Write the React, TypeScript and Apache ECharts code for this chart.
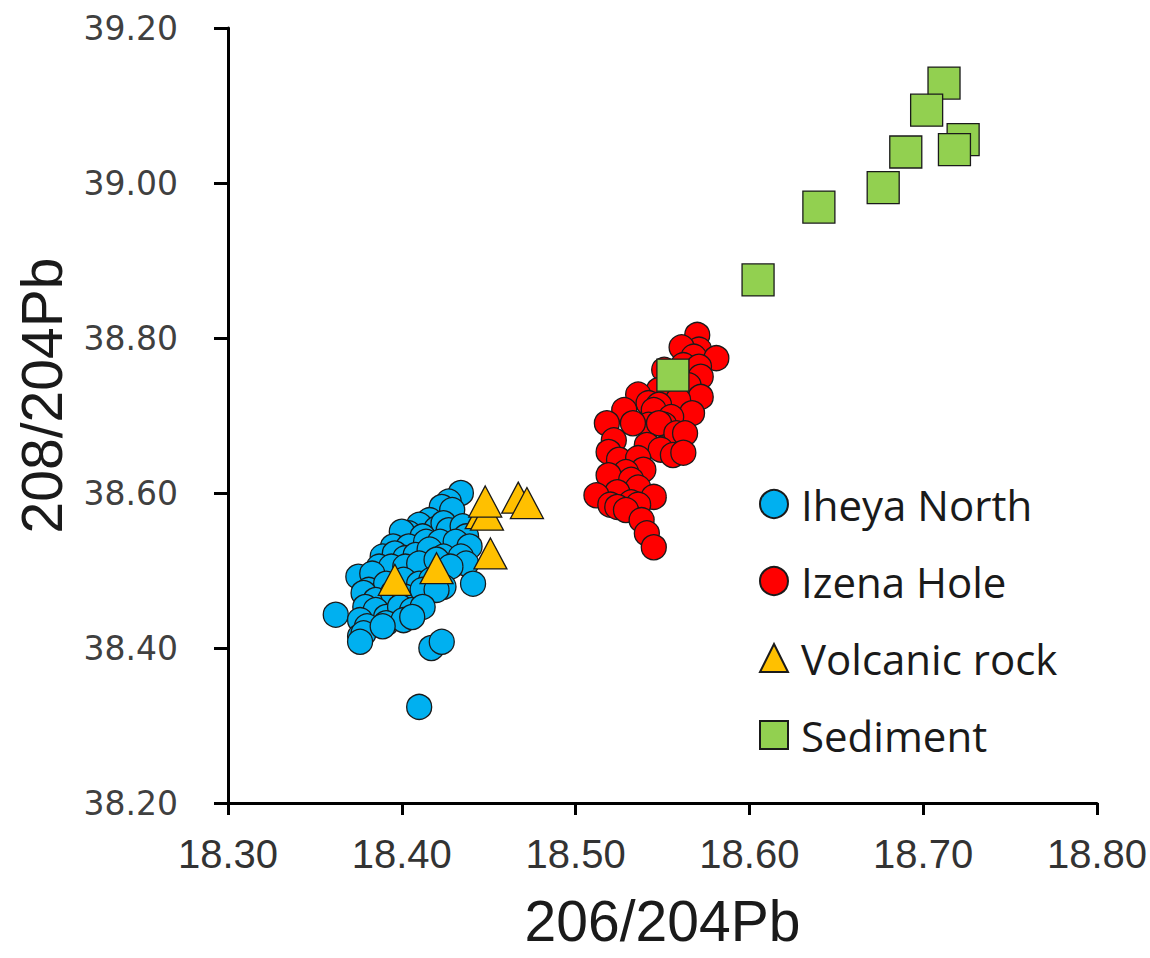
import React, { useEffect, useRef } from "react";
import * as echarts from "echarts";

const seriesNames = ["Iheya North", "Izena Hole", "Volcanic rock", "Sediment"];

const iheyaNorth: [number, number][] = [
  [18.434, 38.6], [18.427, 38.589], [18.423, 38.582], [18.429, 38.578], [18.416, 38.565],
  [18.41, 38.559], [18.42, 38.554], [18.424, 38.561], [18.404, 38.548], [18.4, 38.55],
  [18.412, 38.544], [18.427, 38.552], [18.435, 38.557], [18.437, 38.544], [18.395, 38.531],
  [18.404, 38.531], [18.414, 38.537], [18.422, 38.537], [18.431, 38.537], [18.439, 38.531],
  [18.389, 38.518], [18.396, 38.522], [18.402, 38.516], [18.408, 38.52], [18.416, 38.527],
  [18.424, 38.518], [18.434, 38.518], [18.437, 38.509], [18.387, 38.505], [18.394, 38.505],
  [18.402, 38.505], [18.41, 38.509], [18.42, 38.514], [18.428, 38.505], [18.441, 38.483],
  [18.375, 38.492], [18.383, 38.496], [18.381, 38.475], [18.391, 38.483], [18.401, 38.488],
  [18.41, 38.483], [18.417, 38.488], [18.424, 38.479], [18.378, 38.471], [18.385, 38.462],
  [18.395, 38.471], [18.402, 38.466], [18.412, 38.475], [18.42, 38.475], [18.362, 38.443],
  [18.379, 38.453], [18.385, 38.449], [18.391, 38.44], [18.399, 38.453], [18.406, 38.449],
  [18.412, 38.453], [18.376, 38.436], [18.38, 38.428], [18.391, 38.432], [18.401, 38.436],
  [18.406, 38.44], [18.376, 38.415], [18.378, 38.419], [18.389, 38.428], [18.376, 38.408],
  [18.417, 38.4], [18.423, 38.408], [18.41, 38.324],
];

const izenaHole: [number, number][] = [
  [18.57, 38.804], [18.571, 38.785], [18.561, 38.788], [18.568, 38.776], [18.581, 38.774],
  [18.562, 38.765], [18.571, 38.763], [18.551, 38.759], [18.572, 38.75], [18.565, 38.739],
  [18.553, 38.737], [18.548, 38.733], [18.536, 38.727], [18.572, 38.724], [18.559, 38.72],
  [18.542, 38.716], [18.548, 38.714], [18.545, 38.707], [18.528, 38.707], [18.567, 38.703],
  [18.555, 38.698], [18.542, 38.688], [18.551, 38.688], [18.518, 38.69], [18.533, 38.69],
  [18.548, 38.69], [18.558, 38.677], [18.563, 38.677], [18.522, 38.668], [18.541, 38.662],
  [18.549, 38.656], [18.519, 38.653], [18.556, 38.649], [18.562, 38.652], [18.525, 38.643],
  [18.536, 38.645], [18.539, 38.63], [18.529, 38.627], [18.519, 38.623], [18.532, 38.617],
  [18.536, 38.607], [18.524, 38.601], [18.512, 38.597], [18.545, 38.595], [18.532, 38.588],
  [18.536, 38.585], [18.52, 38.585], [18.524, 38.582], [18.529, 38.578], [18.538, 38.565],
  [18.541, 38.548], [18.545, 38.53],
];

const volcanicRock: [number, number][] = [
  [18.446, 38.574], [18.449, 38.572], [18.448, 38.589], [18.467, 38.594], [18.472, 38.587],
  [18.396, 38.488], [18.42, 38.503], [18.451, 38.522],
];

const sediment: [number, number][] = [
  [18.556, 38.752], [18.605, 38.875], [18.64, 38.969], [18.677, 38.994], [18.69, 39.04],
  [18.723, 39.056], [18.718, 39.043], [18.712, 39.129], [18.702, 39.094],
];

const xTitle = "206/204Pb";
const yTitle = "208/204Pb";

export default function App() {
  const ref = useRef<HTMLDivElement>(null);
  useEffect(() => {
    if (!ref.current) return;
    const chart = echarts.init(ref.current, undefined, { renderer: "svg" });
    const border = { borderColor: "#1a1a1a", borderWidth: 1.3 };
    chart.setOption({
      animation: false,
      backgroundColor: "#ffffff",
      grid: { left: 228, right: 50, top: 28, bottom: 155 },
      xAxis: {
        type: "value",
        min: 18.3,
        max: 18.8,
        interval: 0.1,
        name: xTitle,
        nameLocation: "middle",
        nameGap: 89,
        nameTextStyle: { fontFamily: "Liberation Sans", fontSize: 57, color: "#1a1a1a" },
        axisLine: { onZero: false, lineStyle: { color: "#000", width: 3 } },
        axisTick: { show: true, length: 12, lineStyle: { color: "#000", width: 3 } },
        splitLine: { show: false },
        axisLabel: {
          margin: 31,
          fontFamily: "Liberation Sans",
          fontSize: 40,
          color: "#333",
          formatter: (v: number) => v.toFixed(2),
        },
      },
      yAxis: {
        type: "value",
        min: 38.2,
        max: 39.2,
        interval: 0.2,
        name: yTitle,
        nameLocation: "middle",
        nameRotate: 90,
        nameGap: 158,
        nameTextStyle: { fontFamily: "Liberation Sans", fontSize: 57, color: "#1a1a1a", padding: [0, 0, 0, 40] },
        axisLine: { onZero: false, lineStyle: { color: "#000", width: 3 } },
        axisTick: { show: true, length: 14, lineStyle: { color: "#000", width: 3 } },
        splitLine: { show: false },
        axisLabel: {
          margin: 50,
          fontFamily: "DejaVu Sans",
          fontSize: 33,
          color: "#404040",
          formatter: (v: number) => v.toFixed(2),
        },
      },
      legend: {
        orient: "vertical",
        left: 754,
        top: 478,
        itemWidth: 28,
        itemHeight: 28,
        itemGap: 35,
        data: seriesNames,
        textStyle: {
          fontFamily: "Open Sans",
          fontSize: 42,
          lineHeight: 42,
          color: "#1a1a1a",
          padding: [0, 0, 0, 8],
        },
      },
      series: [
        {
          name: seriesNames[0],
          type: "scatter",
          symbol: "circle",
          symbolSize: 25,
          data: iheyaNorth,
          itemStyle: { color: "#00B0F0", ...border, opacity: 1 },
        },
        {
          name: seriesNames[1],
          type: "scatter",
          symbol: "circle",
          symbolSize: 25,
          data: izenaHole,
          itemStyle: { color: "#FF0000", ...border, opacity: 1 },
        },
        {
          name: seriesNames[2],
          type: "scatter",
          symbol: "triangle",
          symbolSize: [33, 31],
          data: volcanicRock,
          itemStyle: { color: "#FFC000", ...border, opacity: 1 },
        },
        {
          name: seriesNames[3],
          type: "scatter",
          symbol: "rect",
          symbolSize: 32,
          data: sediment,
          itemStyle: { color: "#92D050", ...border, opacity: 1 },
        },
      ],
    });
    return () => chart.dispose();
  }, []);
  return (
    <div
      ref={ref}
      style={{ position: "fixed", left: 0, top: 0, width: 1150, height: 958, background: "#fff" }}
    />
  );
}
